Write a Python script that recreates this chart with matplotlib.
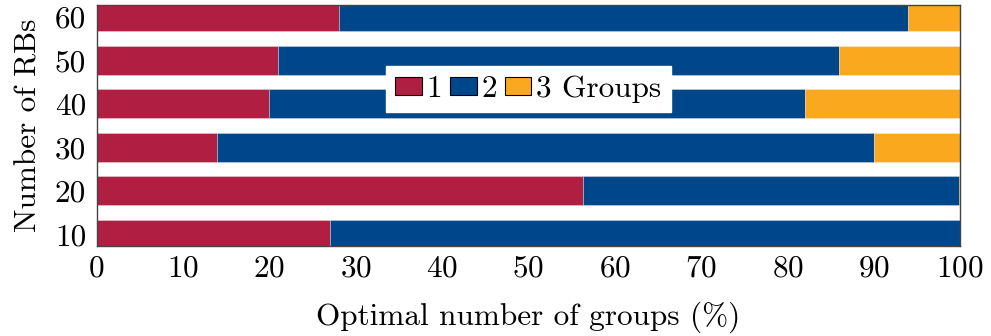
import matplotlib
matplotlib.use("Agg")
import matplotlib.pyplot as plt
import numpy as np

plt.rcParams["font.family"] = "cmr10"
plt.rcParams["mathtext.fontset"] = "cm"
plt.rcParams["axes.formatter.use_mathtext"] = True

# Number of RBs (bottom to top)
rbs = ["10", "20", "30", "40", "50", "60"]
# Share (%) of cases where 1, 2 or 3 groups is optimal
one_group = [27.0, 56.3, 14.0, 20.0, 21.0, 28.1]
two_groups = [73.0, 43.5, 76.0, 62.0, 65.0, 65.9]
three_groups = [0.0, 0.2, 10.0, 18.0, 14.0, 6.0]
legend_labels = ["1", "2", "3 Groups"]
xticks = [0, 10, 20, 30, 40, 50, 60, 70, 80, 90, 100]

colors = ["#B01F42", "#00468B", "#FAA81E"]
fs = 22.5

fig = plt.figure(figsize=(9.91, 3.36), dpi=100)
ax = fig.add_axes([96.5 / 991, 1 - 246 / 336, (960.3 - 96.5) / 991, 241 / 336])

y = np.arange(len(rbs))
h = 0.665
left = np.zeros(len(rbs))
handles = []
for vals, c, lab in zip([one_group, two_groups, three_groups], colors, legend_labels):
    ax.barh(y, vals, height=h, left=left, color=c, edgecolor=(1, 1, 1, 0.35),
            linewidth=0.6)
    handles.append(plt.Rectangle((0, 0), 1, 1, facecolor=c, edgecolor="black",
                                 linewidth=0.8, label=lab))
    left = left + np.array(vals)

ax.set_xlim(0, 100)
ax.set_ylim(-0.264, 5.264)
ax.set_xticks(xticks)
ax.set_yticks(y)
ax.set_yticklabels(rbs)
ax.tick_params(axis="x", length=0, labelsize=fs, pad=6)
ax.tick_params(axis="y", length=0, labelsize=fs, pad=7.5)
ax.set_xlabel("Optimal number of groups (%)", fontsize=fs, labelpad=14)
ax.set_ylabel("Number of RBs", fontsize=fs, labelpad=9)
for s in ax.spines.values():
    s.set_linewidth(1.0)
    s.set_color("#444444")

leg = ax.legend(handles=handles, loc="center", bbox_to_anchor=(0.5, 0.651),
                ncol=3, fontsize=fs, frameon=True, fancybox=False,
                handlelength=0.85, handleheight=0.5, handletextpad=0.15,
                columnspacing=0.25, borderpad=0.3, borderaxespad=0)
leg.get_frame().set_edgecolor("white")
leg.get_frame().set_facecolor("white")
leg.get_frame().set_alpha(1.0)

fig.savefig("out.png", dpi=100)
